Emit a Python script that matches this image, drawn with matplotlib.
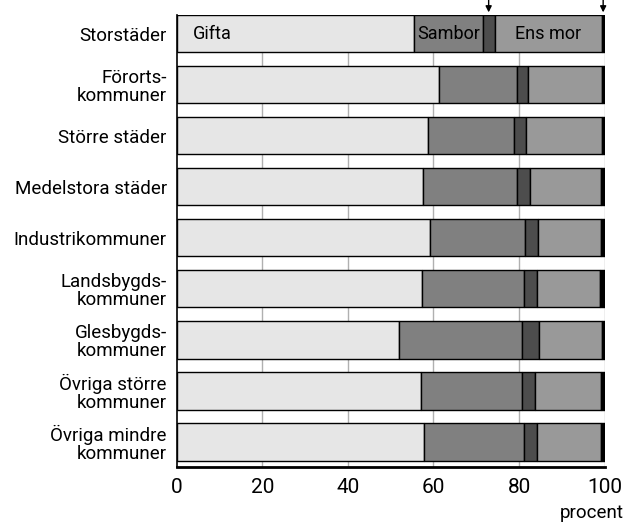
import matplotlib
matplotlib.use("Agg")
import matplotlib.pyplot as plt
import numpy as np

plt.rcParams['font.family'] = ['Roboto', 'DejaVu Sans']

categories = ["Storstäder", "Förorts-\nkommuner", "Större städer", "Medelstora städer",
              "Industrikommuner", "Landsbygds-\nkommuner", "Glesbygds-\nkommuner",
              "Övriga större\nkommuner", "Övriga mindre\nkommuner"]
gifta = [55.5, 61.4, 58.7, 57.5, 59.1, 57.4, 52.0, 57.2, 57.7]
sambor = [16.0, 18.1, 20.2, 22.0, 22.2, 23.7, 28.7, 23.5, 23.4]
ens_far = [2.8, 2.7, 2.8, 3.0, 3.2, 3.1, 4.0, 3.1, 3.1]
ens_mor = [25.0, 17.1, 17.6, 16.7, 14.6, 14.7, 14.6, 15.3, 15.0]
ovriga = [0.7, 0.7, 0.7, 0.8, 0.9, 1.1, 0.7, 0.9, 0.8]
ticks = [0, 20, 40, 60, 80, 100]

series = [gifta, sambor, ens_far, ens_mor, ovriga]
colors = ["#e6e6e6", "#808080", "#4d4d4d", "#999999", "#000000"]

fig = plt.figure(figsize=(6.24, 5.22), dpi=100)
ax = fig.add_axes([0.283, 0.106, 0.686, 0.865])

y = np.arange(len(categories))
h = 0.73
left = np.zeros(len(categories))
for vals, c in zip(series, colors):
    ax.barh(y, vals, left=left, height=h, color=c, edgecolor="black", linewidth=1, zorder=3)
    left = left + np.array(vals)

ax.set_xlim(0, 100)
ax.set_ylim(8 + h / 2 + 0.12, -h / 2)
ax.set_yticks(y)
ax.set_yticklabels(categories, fontsize=13.5, linespacing=1.0)
ax.set_xticks(ticks)
ax.set_xticklabels([str(t) for t in ticks], fontsize=15)
ax.tick_params(length=0, pad=7)
ax.tick_params(axis="x", pad=8)
for t in ticks[1:]:
    ax.axvline(t, color="#b0b0b0", lw=1, zorder=1)

ax.spines["top"].set_visible(False)
ax.spines["right"].set_visible(False)
ax.spines["left"].set_linewidth(1.2)
ax.spines["bottom"].set_linewidth(2)

# segment labels in first row
ax.text(3.8, 0, "Gifta", va="center", ha="left", fontsize=13, zorder=4)
ax.text(gifta[0] + sambor[0] / 2, 0, "Sambor", va="center", ha="center", fontsize=13, zorder=4)
x0 = gifta[0] + sambor[0] + ens_far[0]
ax.text(x0 + ens_mor[0] / 2, 0, "Ens mor", va="center", ha="center", fontsize=13, zorder=4)

# arrows from above
for xa in [gifta[0] + sambor[0] + ens_far[0] / 2, 100 - ovriga[0] / 2]:
    ax.annotate("", xy=(xa, -h / 2), xytext=(xa, -h / 2 - 0.5),
                arrowprops=dict(arrowstyle="-|>", color="black", lw=1, mutation_scale=9),
                annotation_clip=False)

fig.text(0.999, 0.018, "procent", ha="right", va="center", fontsize=13.5)

fig.savefig("out.png", dpi=100)
